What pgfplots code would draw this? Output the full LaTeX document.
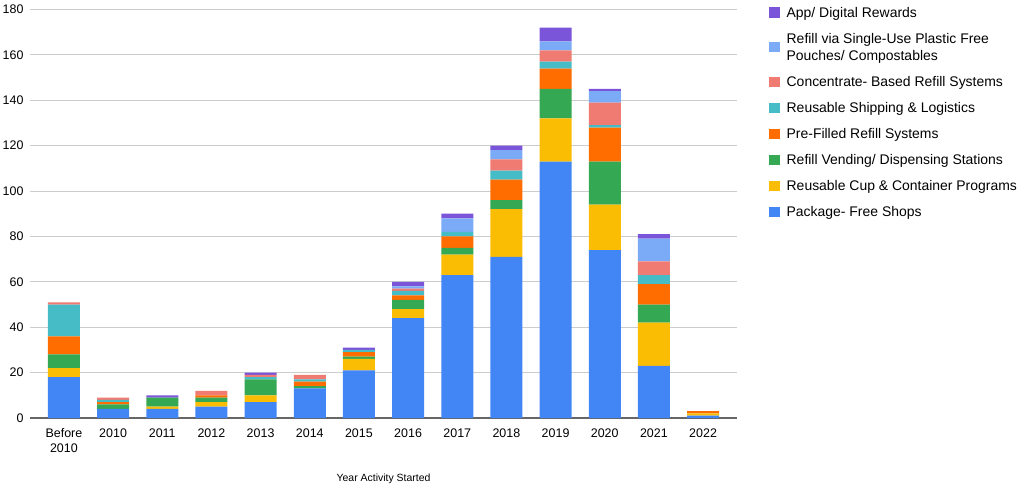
\documentclass[border=0pt]{standalone}
\usepackage{fontspec}
\setmainfont{Liberation Sans}
\usepackage{pgfplots}
\usepackage{pgfplotstable}
\pgfplotsset{compat=1.18}
\definecolor{cBlue}{HTML}{4285F4}
\definecolor{cYellow}{HTML}{FBBC04}
\definecolor{cGreen}{HTML}{34A853}
\definecolor{cOrange}{HTML}{FF6D01}
\definecolor{cTeal}{HTML}{46BDC6}
\definecolor{cPink}{HTML}{F07B72}
\definecolor{cLBlue}{HTML}{7BAAF7}
\definecolor{cPurple}{HTML}{7B55D9}
\pgfplotstableread{
x blue yellow green orange teal pink lblue purple
0 18 4 6 8 14 1 0 0
1 4 0 2 1 1 1 0 0
2 4 1 4 0 0 0 0 1
3 5 2 2 1 0 2 0 0
4 7 3 7 0 1 1 0 1
5 13 0 1 2 1 2 0 0
6 21 5 1 2 1 0 0 1
7 44 4 4 2 2 1 1 2
8 63 9 3 5 2 0 6 2
9 71 21 4 9 4 5 4 2
10 113 19 13 9 3 5 4 6
11 74 20 19 15 1 10 5 1
12 23 19 8 9 4 6 10 2
13 1 1 0 1 0 0 0 0
}\datatable
\begin{document}
\begin{tikzpicture}
\begin{axis}[
  name=ax,
  scale only axis, width=707bp, height=408.5bp,
  ybar stacked, bar width=32bp,
  xmin=-0.69, xmax=13.69, ymin=0, ymax=180,
  xtick={0,...,13},
  xticklabels={{Before\\2010},2010,2011,2012,2013,2014,2015,2016,2017,2018,2019,2020,2021,2022},
  xticklabel style={align=center, font=\fontsize{12.5}{15}\selectfont, yshift=-7bp},
  ytick={0,20,...,180},
  yticklabel style={font=\fontsize{12.5}{15}\selectfont, xshift=-3bp},
  /pgf/number format/assume math mode=true,
  major tick length=0pt,
  ymajorgrids, grid style={draw=black!20, line width=0.9bp},
  axis x line*=bottom, axis y line*=left,
  x axis line style={draw=black!60, line width=1.2bp, -},
  y axis line style={draw=none},
  xlabel={Year Activity Started},
  xlabel style={at={(axis description cs:0.5,0)}, anchor=base, yshift=-63bp, font=\fontsize{10.5}{12}\selectfont},
  every axis plot/.append style={draw=none},
  reverse legend,
  legend image code/.code={\fill[#1] (0bp,-5bp) rectangle (10.5bp,5.5bp); \path (15.5bp,0bp);},
  legend style={at={(rel axis cs:1.041,1.016)}, anchor=north west, draw=none, fill=none,
    font=\fontsize{14}{17}\selectfont, row sep=10.5bp,
    cells={anchor=west, align=left}},
]
\addplot[fill=cBlue] table[x=x,y=blue]{\datatable};
\addplot[fill=cYellow] table[x=x,y=yellow]{\datatable};
\addplot[fill=cGreen] table[x=x,y=green]{\datatable};
\addplot[fill=cOrange] table[x=x,y=orange]{\datatable};
\addplot[fill=cTeal] table[x=x,y=teal]{\datatable};
\addplot[fill=cPink] table[x=x,y=pink]{\datatable};
\addplot[fill=cLBlue] table[x=x,y=lblue]{\datatable};
\addplot[fill=cPurple] table[x=x,y=purple]{\datatable};
\legend{Package- Free Shops, Reusable Cup \& Container Programs, Refill Vending/ Dispensing Stations, Pre-Filled Refill Systems, Reusable Shipping \& Logistics, Concentrate- Based Refill Systems, {Refill via Single-Use Plastic Free\\Pouches/ Compostables}, App/ Digital Rewards}
\end{axis}
\pgfresetboundingbox
\path[use as bounding box] ([shift={(-30bp,-67bp)}]ax.south west) rectangle ([shift={(991bp,418bp)}]ax.south west);
\end{tikzpicture}
\end{document}
